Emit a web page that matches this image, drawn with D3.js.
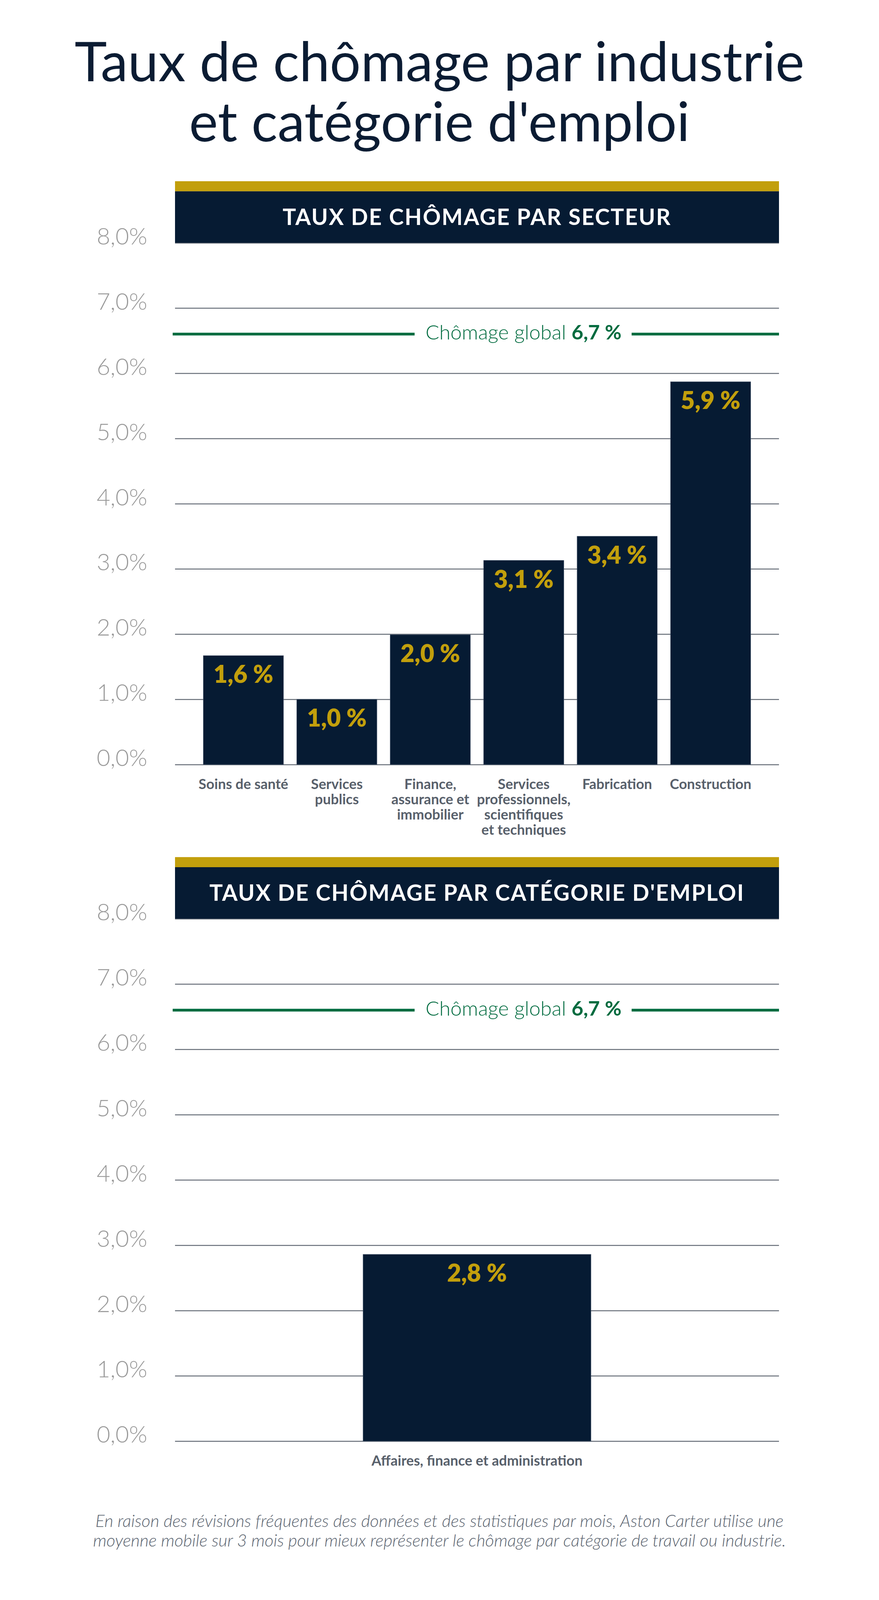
<!DOCTYPE html>
<html>

<head>
    <meta charset="utf-8">
    <style>
        html, body {
            margin: 0;
            padding: 0;
            background: #ffffff;
            overflow: hidden;
        }

        svg {
            display: block;
            font-family: Lato, "Open Sans", sans-serif;
        }
    </style>
    <script src="https://cdn.jsdelivr.net/npm/d3@7/dist/d3.min.js"></script>
    <title>Taux de chômage par industrie et catégorie d'emploi</title>
</head>

<body>
    <div id="chart"></div>

    <script>
        // Data
        const titleLines = ["Taux de chômage par industrie", "et catégorie d'emploi"];

        const sectorTitle = "TAUX DE CHÔMAGE PAR SECTEUR";
        const sectorCategories = [
            "Soins de santé",
            "Services\npublics",
            "Finance,\nassurance et\nimmobilier",
            "Services\nprofessionnels,\nscientifiques\net techniques",
            "Fabrication",
            "Construction"
        ];
        const sectorValues = [1.67, 1.0, 1.99, 3.13, 3.5, 5.87];
        const sectorLabels = ["1,6 %", "1,0 %", "2,0 %", "3,1 %", "3,4 %", "5,9 %"];

        const jobTitle = "TAUX DE CHÔMAGE PAR CATÉGORIE D'EMPLOI";
        const jobCategories = ["Affaires, finance et administration"];
        const jobValues = [2.86];
        const jobLabels = ["2,8 %"];

        const yTicks = [0, 1, 2, 3, 4, 5, 6, 7, 8];
        const overallLineValue = 6.6;
        const overallText = "Chômage global ";
        const overallLabel = "6,7 %";

        const footnoteLines = [
            "En raison des révisions fréquentes des données et des statistiques par mois, Aston Carter utilise une",
            "moyenne mobile sur 3 mois pour mieux représenter le chômage par catégorie de travail ou industrie."
        ];

        // Colours
        const navy = "#061b33", gold = "#c29f0c", green = "#006b3f";

        // SVG setup: the window may be shorter than the design height,
        // so vertical layout is squeezed to fit (glyphs stay unscaled)
        const width = 2250, designHeight = 4441;
        const height = Math.min(designHeight, window.innerHeight || designHeight);
        const ky = height / designHeight;
        const sy = v => v * ky;
        const x0 = 448, x1 = 1994;

        const svg = d3.select("#chart").append("svg")
            .attr("width", width)
            .attr("height", height);

        // Title
        svg.append("g").selectAll("text")
            .data(titleLines)
            .join("text")
            .attr("x", width / 2)
            .attr("y", (d, i) => sy(226 + i * 166))
            .attr("text-anchor", "middle")
            .attr("font-size", 140)
            .attr("font-weight", 400)
            .attr("fill", "#0b1c33")
            .text(d => d);

        const fmtTick = d => d3.format(".1f")(d).replace(".", ",") + "%";

        const drawPanel = (opts) => {
            const g = svg.append("g");

            const y = d3.scaleLinear().domain([0, 8]).range([sy(opts.bottom), sy(opts.top)]);
            const x = d3.scaleBand()
                .domain(opts.categories)
                .range([x0, x1])
                .paddingInner(opts.padInner)
                .paddingOuter(opts.padOuter);

            // Grid + tick labels
            const axis = g.append("g")
                .attr("transform", `translate(${x0},0)`)
                .call(d3.axisLeft(y)
                    .tickValues(yTicks)
                    .tickSize(-(x1 - x0))
                    .tickPadding(71)
                    .tickFormat(fmtTick));
            axis.select(".domain").remove();
            axis.selectAll(".tick line")
                .attr("stroke", "#676e78")
                .attr("stroke-width", 2.5);
            axis.selectAll(".tick text")
                .attr("dy", "0.06em")
                .attr("font-family", "Lato, sans-serif")
                .attr("font-size", 60)
                .attr("font-weight", 300)
                .attr("fill", "#9a9a9a");

            // Header band (covers the 8% line)
            const top = y(8);
            g.append("rect")
                .attr("x", x0).attr("y", top - sy(171))
                .attr("width", x1 - x0).attr("height", sy(28))
                .attr("fill", gold);
            g.append("rect")
                .attr("x", x0).attr("y", top - sy(143))
                .attr("width", x1 - x0).attr("height", sy(143))
                .attr("fill", navy);
            g.append("text")
                .attr("x", (x0 + x1) / 2)
                .attr("y", top - sy(143) / 2 + 20)
                .attr("text-anchor", "middle")
                .attr("font-size", 57)
                .attr("font-weight", 700)
                .attr("letter-spacing", 2.4)
                .attr("fill", "#ffffff")
                .text(opts.title);

            // Overall unemployment line
            const gy = y(overallLineValue);
            const label = g.append("text")
                .attr("x", x0 + 0.577 * (x1 - x0))
                .attr("y", gy + 14)
                .attr("text-anchor", "middle")
                .attr("font-size", 52)
                .attr("font-weight", 300)
                .attr("fill", green);
            label.append("tspan").text(overallText);
            label.append("tspan").attr("font-weight", 700).text(overallLabel);
            const bb = label.node().getBBox();
            g.append("line")
                .attr("x1", x0 - 6).attr("x2", bb.x - 28)
                .attr("y1", gy).attr("y2", gy)
                .attr("stroke", green).attr("stroke-width", 7);
            g.append("line")
                .attr("x1", bb.x + bb.width + 26).attr("x2", x1)
                .attr("y1", gy).attr("y2", gy)
                .attr("stroke", green).attr("stroke-width", 7);

            // Bars
            g.append("g").selectAll("rect")
                .data(opts.values)
                .join("rect")
                .attr("x", (d, i) => x(opts.categories[i]))
                .attr("y", d => y(d))
                .attr("width", x.bandwidth())
                .attr("height", d => y(0) - y(d))
                .attr("fill", navy)
                .attr("stroke", "#44546a")
                .attr("stroke-width", 1);

            // Value labels
            g.append("g").selectAll("text")
                .data(opts.values)
                .join("text")
                .attr("x", (d, i) => x(opts.categories[i]) + x.bandwidth() / 2)
                .attr("y", d => y(d) + 70)
                .attr("text-anchor", "middle")
                .attr("font-size", 62)
                .attr("font-weight", 800)
                .attr("fill", gold)
                .text((d, i) => opts.labels[i]);

            // Category labels
            const cat = g.append("g").selectAll("text")
                .data(opts.categories)
                .join("text")
                .attr("x", d => x(d) + x.bandwidth() / 2)
                .attr("y", y(0) + sy(68))
                .attr("text-anchor", "middle")
                .attr("font-size", 36)
                .attr("font-weight", 700)
                .attr("fill", "#58606b");
            cat.selectAll("tspan")
                .data(d => d.split("\n"))
                .join("tspan")
                .attr("x", function () { return this.parentNode.getAttribute("x"); })
                .attr("dy", (d, i) => i === 0 ? 0 : sy(42.5))
                .text(d => d);
        };

        drawPanel({
            title: sectorTitle,
            categories: sectorCategories,
            values: sectorValues,
            labels: sectorLabels,
            top: 674, bottom: 2122,
            padInner: 0.142, padOuter: 0.303
        });

        drawPanel({
            title: jobTitle,
            categories: jobCategories,
            values: jobValues,
            labels: jobLabels,
            top: 2550, bottom: 4000,
            padInner: 0.452, padOuter: 0.452
        });

        // Footnote
        svg.append("g").selectAll("text")
            .data(footnoteLines)
            .join("text")
            .attr("x", width / 2)
            .attr("y", (d, i) => sy(4238 + i * 55))
            .attr("text-anchor", "middle")
            .attr("font-size", 44)
            .attr("font-style", "italic")
            .attr("font-weight", 300)
            .attr("fill", "#5b6470")
            .text(d => d);
    </script>
</body>

</html>
